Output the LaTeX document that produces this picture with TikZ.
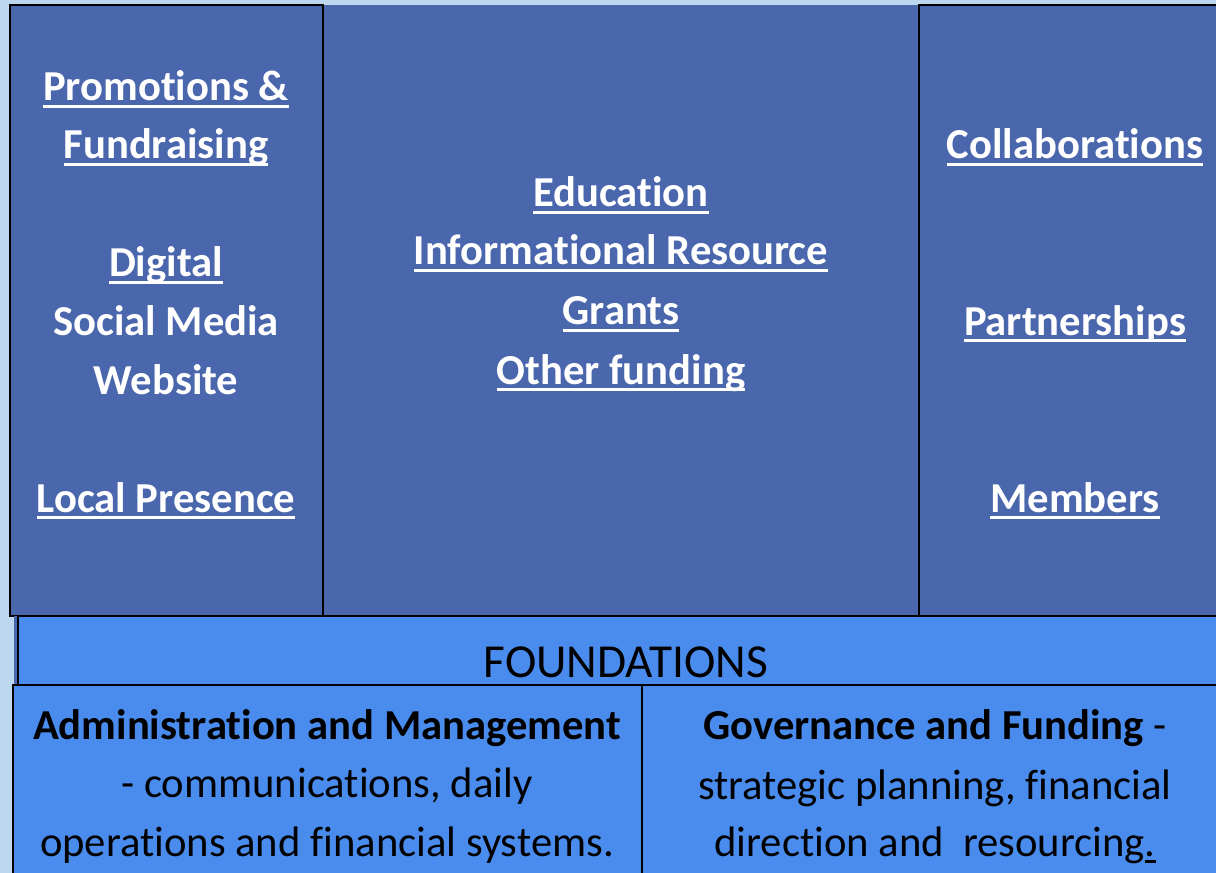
\documentclass[tikz,border=0pt]{standalone}
\usepackage{fontspec}
\setmainfont[Ligatures=NoCommon]{Carlito}
\definecolor{sky}{HTML}{BDD7EE}
\definecolor{pillar}{HTML}{4A66AC}
\definecolor{footing}{HTML}{4A8CEE}

\newcommand\ulin[1]{\setbox0\hbox{#1}\rlap{\rule[-0.16em]{\wd0}{0.06em}}\box0}

\tikzset{
    toptext/.style={text=white, anchor=base, inner sep=0pt, font=\bfseries\fontsize{32}{38}\selectfont},
    basetext/.style={text=black, anchor=base, inner sep=0pt, font=\fontsize{32}{38}\selectfont},
}

\begin{document}
\begin{tikzpicture}[x=0.75pt, y=-0.75pt]
    \useasboundingbox (0, 0) rectangle (1216, 873);
    \clip (0, 0) rectangle (1216, 873);

    \fill[sky] (0, 0) rectangle (1216, 873);

    % pillars
    \fill[pillar] (10, 5) rectangle (1216, 616);
    \draw[line width=1.5pt] (10, 5) rectangle (323, 616);
    \draw[line width=1.5pt] (919, 5) rectangle (1230, 616);
    \draw[line width=1.2pt] (323, 616) -- (919, 616);

    % foundations
    \fill[pillar] (14, 616) rectangle (18, 685);
    \draw[line width=1.2pt, fill=footing] (18, 616) rectangle (1230, 685);
    \draw[line width=1.2pt, fill=footing] (13, 685) rectangle (642, 890);
    \draw[line width=1.2pt, fill=footing] (642, 685) rectangle (1230, 890);

    % left
    \foreach \y / \t [count=\i] in {101/{\ulin{Promotions \&}}, 159/{\ulin{Fundraising}}, 277/{\ulin{Digital}}, 335/{Social Media}, 394/{Website}, 512/{\ulin{Local Presence}}}
        \node[toptext] (left\i) at (166, \y) {\t};

    % middle
    \foreach \y / \t [count=\i] in {207/{\ulin{Education}}, 265/{\ulin{Informational Resource}}, 325/{\ulin{Grants}}, 384/{\ulin{Other funding}}}
        \node[toptext] (mid\i) at (621, \y) {\t};

    % right
    \foreach \y / \t [count=\i] in {159/{\ulin{Collaborations}}, 335/{\ulin{Partnerships}}, 512/{\ulin{Members}}}
        \node[toptext] (right\i) at (1075, \y) {\t};

    % bottom
    \node[basetext, font=\fontsize{35.5}{42}\selectfont] (found) at (626, 677) {FOUNDATIONS};

    \foreach \y / \t [count=\i] in {739/{\textbf{Administration and Management}}, 797/{- communications, daily}, 856/{operations and financial systems.}}
        \node[basetext] (admin\i) at (327, \y) {\t};

    \foreach \y / \t [count=\i] in {739/{\textbf{Governance and Funding} -}, 799/{strategic planning, financial}, 856/{direction and\ \ resourcing\ulin{.}}}
        \node[basetext] (gov\i) at (935, \y) {\t};

\end{tikzpicture}
\end{document}
